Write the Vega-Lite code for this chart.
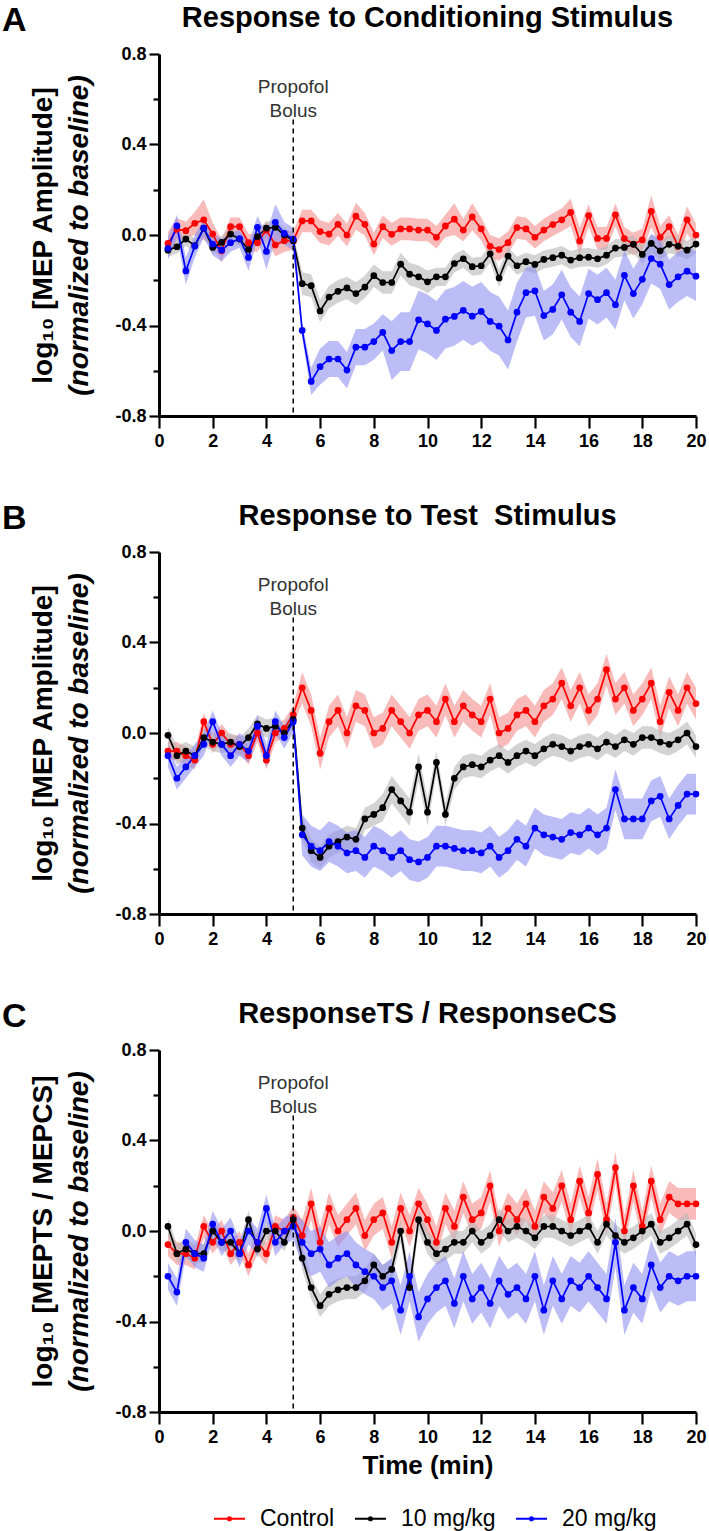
{
"$schema": "https://vega.github.io/schema/vega-lite/v6.json",
"padding": {"left": 2, "top": 4, "right": 2, "bottom": 4},
"config": {"font": "Liberation Sans", "view": {"stroke": null}, "axis": {"domainColor": "black", "tickColor": "black", "labelColor": "black", "titleColor": "black", "grid": false}, "title": {"color": "black"}},
"spacing": 52,
"datasets": {
"A": [
{"g":"Control","t":0.333,"m":-0.037,"e":0.05},{"g":"Control","t":0.667,"m":0.025,"e":0.05},{"g":"Control","t":1,"m":0.019,"e":0.04},{"g":"Control","t":1.333,"m":0.052,"e":0.05},{"g":"Control","t":1.667,"m":0.067,"e":0.09},{"g":"Control","t":2,"m":0.004,"e":0.05},{"g":"Control","t":2.333,"m":-0.07,"e":0.05},{"g":"Control","t":2.667,"m":0.037,"e":0.04},{"g":"Control","t":3,"m":0.037,"e":0.04},{"g":"Control","t":3.333,"m":-0.034,"e":0.04},{"g":"Control","t":3.667,"m":-0.034,"e":0.04},{"g":"Control","t":4,"m":0.022,"e":0.04},{"g":"Control","t":4.333,"m":-0.044,"e":0.05},{"g":"Control","t":4.667,"m":-0.025,"e":0.05},{"g":"Control","t":5,"m":-0.025,"e":0.04},
{"g":"Control","t":5.333,"m":0.062,"e":0.05},{"g":"Control","t":5.667,"m":0.062,"e":0.05},{"g":"Control","t":6,"m":0.015,"e":0.05},{"g":"Control","t":6.333,"m":0.004,"e":0.05},{"g":"Control","t":6.667,"m":0.047,"e":0.05},{"g":"Control","t":7,"m":0.0,"e":0.05},{"g":"Control","t":7.333,"m":0.083,"e":0.06},{"g":"Control","t":7.667,"m":0.047,"e":0.05},{"g":"Control","t":8,"m":-0.04,"e":0.05},{"g":"Control","t":8.333,"m":0.037,"e":0.05},{"g":"Control","t":8.667,"m":0.003,"e":0.05},{"g":"Control","t":9,"m":0.027,"e":0.05},{"g":"Control","t":9.333,"m":0.027,"e":0.05},{"g":"Control","t":9.667,"m":0.022,"e":0.05},{"g":"Control","t":10,"m":0.022,"e":0.05},
{"g":"Control","t":10.333,"m":-0.01,"e":0.05},{"g":"Control","t":10.667,"m":0.04,"e":0.05},{"g":"Control","t":11,"m":0.07,"e":0.07},{"g":"Control","t":11.333,"m":0.022,"e":0.05},{"g":"Control","t":11.667,"m":0.08,"e":0.06},{"g":"Control","t":12,"m":0.027,"e":0.05},{"g":"Control","t":12.333,"m":-0.05,"e":0.05},{"g":"Control","t":12.667,"m":-0.064,"e":0.05},{"g":"Control","t":13,"m":-0.034,"e":0.05},{"g":"Control","t":13.333,"m":0.033,"e":0.05},{"g":"Control","t":13.667,"m":0.027,"e":0.05},{"g":"Control","t":14,"m":-0.01,"e":0.05},{"g":"Control","t":14.333,"m":0.022,"e":0.05},{"g":"Control","t":14.667,"m":0.046,"e":0.05},{"g":"Control","t":15,"m":0.067,"e":0.05},
{"g":"Control","t":15.333,"m":0.1,"e":0.06},{"g":"Control","t":15.667,"m":-0.027,"e":0.06},{"g":"Control","t":16,"m":0.086,"e":0.05},{"g":"Control","t":16.333,"m":-0.015,"e":0.05},{"g":"Control","t":16.667,"m":-0.015,"e":0.05},{"g":"Control","t":17,"m":0.089,"e":0.05},{"g":"Control","t":17.333,"m":-0.016,"e":0.05},{"g":"Control","t":17.667,"m":-0.04,"e":0.05},{"g":"Control","t":18,"m":-0.022,"e":0.05},{"g":"Control","t":18.333,"m":0.105,"e":0.07},{"g":"Control","t":18.667,"m":-0.01,"e":0.05},{"g":"Control","t":19,"m":0.037,"e":0.05},{"g":"Control","t":19.333,"m":-0.05,"e":0.05},{"g":"Control","t":19.667,"m":0.067,"e":0.06},{"g":"Control","t":20,"m":0.0,"e":0.05},
{"g":"10 mg/kg","t":0.333,"m":-0.067,"e":0.03},{"g":"10 mg/kg","t":0.667,"m":-0.052,"e":0.03},{"g":"10 mg/kg","t":1,"m":-0.018,"e":0.03},{"g":"10 mg/kg","t":1.333,"m":-0.047,"e":0.03},{"g":"10 mg/kg","t":1.667,"m":0.03,"e":0.03},{"g":"10 mg/kg","t":2,"m":-0.055,"e":0.03},{"g":"10 mg/kg","t":2.333,"m":-0.033,"e":0.03},{"g":"10 mg/kg","t":2.667,"m":0.004,"e":0.03},{"g":"10 mg/kg","t":3,"m":-0.018,"e":0.03},{"g":"10 mg/kg","t":3.333,"m":-0.064,"e":0.03},{"g":"10 mg/kg","t":3.667,"m":-0.007,"e":0.03},{"g":"10 mg/kg","t":4,"m":0.03,"e":0.03},{"g":"10 mg/kg","t":4.333,"m":0.034,"e":0.03},{"g":"10 mg/kg","t":4.667,"m":0.0,"e":0.03},{"g":"10 mg/kg","t":5,"m":-0.025,"e":0.03},
{"g":"10 mg/kg","t":5.333,"m":-0.215,"e":0.05},{"g":"10 mg/kg","t":5.667,"m":-0.224,"e":0.05},{"g":"10 mg/kg","t":6,"m":-0.336,"e":0.05},{"g":"10 mg/kg","t":6.333,"m":-0.274,"e":0.05},{"g":"10 mg/kg","t":6.667,"m":-0.249,"e":0.05},{"g":"10 mg/kg","t":7,"m":-0.234,"e":0.05},{"g":"10 mg/kg","t":7.333,"m":-0.259,"e":0.05},{"g":"10 mg/kg","t":7.667,"m":-0.23,"e":0.05},{"g":"10 mg/kg","t":8,"m":-0.18,"e":0.05},{"g":"10 mg/kg","t":8.333,"m":-0.21,"e":0.05},{"g":"10 mg/kg","t":8.667,"m":-0.21,"e":0.05},{"g":"10 mg/kg","t":9,"m":-0.129,"e":0.05},{"g":"10 mg/kg","t":9.333,"m":-0.173,"e":0.05},{"g":"10 mg/kg","t":9.667,"m":-0.185,"e":0.05},{"g":"10 mg/kg","t":10,"m":-0.207,"e":0.05},
{"g":"10 mg/kg","t":10.333,"m":-0.185,"e":0.04},{"g":"10 mg/kg","t":10.667,"m":-0.185,"e":0.04},{"g":"10 mg/kg","t":11,"m":-0.126,"e":0.04},{"g":"10 mg/kg","t":11.333,"m":-0.105,"e":0.04},{"g":"10 mg/kg","t":11.667,"m":-0.14,"e":0.04},{"g":"10 mg/kg","t":12,"m":-0.136,"e":0.04},{"g":"10 mg/kg","t":12.333,"m":-0.083,"e":0.04},{"g":"10 mg/kg","t":12.667,"m":-0.19,"e":0.04},{"g":"10 mg/kg","t":13,"m":-0.093,"e":0.04},{"g":"10 mg/kg","t":13.333,"m":-0.136,"e":0.04},{"g":"10 mg/kg","t":13.667,"m":-0.118,"e":0.04},{"g":"10 mg/kg","t":14,"m":-0.13,"e":0.04},{"g":"10 mg/kg","t":14.333,"m":-0.108,"e":0.04},{"g":"10 mg/kg","t":14.667,"m":-0.1,"e":0.04},{"g":"10 mg/kg","t":15,"m":-0.089,"e":0.04},
{"g":"10 mg/kg","t":15.333,"m":-0.111,"e":0.04},{"g":"10 mg/kg","t":15.667,"m":-0.1,"e":0.04},{"g":"10 mg/kg","t":16,"m":-0.098,"e":0.04},{"g":"10 mg/kg","t":16.333,"m":-0.105,"e":0.04},{"g":"10 mg/kg","t":16.667,"m":-0.089,"e":0.04},{"g":"10 mg/kg","t":17,"m":-0.058,"e":0.04},{"g":"10 mg/kg","t":17.333,"m":-0.055,"e":0.04},{"g":"10 mg/kg","t":17.667,"m":-0.041,"e":0.04},{"g":"10 mg/kg","t":18,"m":-0.086,"e":0.04},{"g":"10 mg/kg","t":18.333,"m":-0.037,"e":0.04},{"g":"10 mg/kg","t":18.667,"m":-0.07,"e":0.04},{"g":"10 mg/kg","t":19,"m":-0.041,"e":0.04},{"g":"10 mg/kg","t":19.333,"m":-0.049,"e":0.04},{"g":"10 mg/kg","t":19.667,"m":-0.067,"e":0.04},{"g":"10 mg/kg","t":20,"m":-0.04,"e":0.04},
{"g":"20 mg/kg","t":0.333,"m":-0.059,"e":0.05},{"g":"20 mg/kg","t":0.667,"m":0.04,"e":0.05},{"g":"20 mg/kg","t":1,"m":-0.159,"e":0.06},{"g":"20 mg/kg","t":1.333,"m":-0.049,"e":0.05},{"g":"20 mg/kg","t":1.667,"m":0.03,"e":0.04},{"g":"20 mg/kg","t":2,"m":-0.04,"e":0.05},{"g":"20 mg/kg","t":2.333,"m":-0.067,"e":0.05},{"g":"20 mg/kg","t":2.667,"m":-0.034,"e":0.04},{"g":"20 mg/kg","t":3,"m":-0.016,"e":0.04},{"g":"20 mg/kg","t":3.333,"m":-0.099,"e":0.06},{"g":"20 mg/kg","t":3.667,"m":0.034,"e":0.05},{"g":"20 mg/kg","t":4,"m":-0.073,"e":0.08},{"g":"20 mg/kg","t":4.333,"m":0.056,"e":0.08},{"g":"20 mg/kg","t":4.667,"m":0.007,"e":0.05},{"g":"20 mg/kg","t":5,"m":-0.018,"e":0.05},
{"g":"20 mg/kg","t":5.333,"m":-0.422,"e":0.03},{"g":"20 mg/kg","t":5.667,"m":-0.647,"e":0.06},{"g":"20 mg/kg","t":6,"m":-0.582,"e":0.08},{"g":"20 mg/kg","t":6.333,"m":-0.548,"e":0.08},{"g":"20 mg/kg","t":6.667,"m":-0.548,"e":0.08},{"g":"20 mg/kg","t":7,"m":-0.597,"e":0.08},{"g":"20 mg/kg","t":7.333,"m":-0.496,"e":0.08},{"g":"20 mg/kg","t":7.667,"m":-0.496,"e":0.08},{"g":"20 mg/kg","t":8,"m":-0.471,"e":0.08},{"g":"20 mg/kg","t":8.333,"m":-0.43,"e":0.08},{"g":"20 mg/kg","t":8.667,"m":-0.511,"e":0.13},{"g":"20 mg/kg","t":9,"m":-0.471,"e":0.13},{"g":"20 mg/kg","t":9.333,"m":-0.471,"e":0.13},{"g":"20 mg/kg","t":9.667,"m":-0.375,"e":0.13},{"g":"20 mg/kg","t":10,"m":-0.393,"e":0.13},
{"g":"20 mg/kg","t":10.333,"m":-0.422,"e":0.13},{"g":"20 mg/kg","t":10.667,"m":-0.372,"e":0.13},{"g":"20 mg/kg","t":11,"m":-0.36,"e":0.13},{"g":"20 mg/kg","t":11.333,"m":-0.333,"e":0.13},{"g":"20 mg/kg","t":11.667,"m":-0.359,"e":0.13},{"g":"20 mg/kg","t":12,"m":-0.338,"e":0.13},{"g":"20 mg/kg","t":12.333,"m":-0.382,"e":0.13},{"g":"20 mg/kg","t":12.667,"m":-0.403,"e":0.13},{"g":"20 mg/kg","t":13,"m":-0.464,"e":0.13},{"g":"20 mg/kg","t":13.333,"m":-0.341,"e":0.13},{"g":"20 mg/kg","t":13.667,"m":-0.255,"e":0.11},{"g":"20 mg/kg","t":14,"m":-0.247,"e":0.11},{"g":"20 mg/kg","t":14.333,"m":-0.356,"e":0.11},{"g":"20 mg/kg","t":14.667,"m":-0.329,"e":0.11},{"g":"20 mg/kg","t":15,"m":-0.264,"e":0.11},
{"g":"20 mg/kg","t":15.333,"m":-0.341,"e":0.11},{"g":"20 mg/kg","t":15.667,"m":-0.382,"e":0.11},{"g":"20 mg/kg","t":16,"m":-0.259,"e":0.11},{"g":"20 mg/kg","t":16.333,"m":-0.286,"e":0.11},{"g":"20 mg/kg","t":16.667,"m":-0.255,"e":0.11},{"g":"20 mg/kg","t":17,"m":-0.308,"e":0.11},{"g":"20 mg/kg","t":17.333,"m":-0.178,"e":0.11},{"g":"20 mg/kg","t":17.667,"m":-0.259,"e":0.11},{"g":"20 mg/kg","t":18,"m":-0.196,"e":0.11},{"g":"20 mg/kg","t":18.333,"m":-0.104,"e":0.11},{"g":"20 mg/kg","t":18.667,"m":-0.129,"e":0.11},{"g":"20 mg/kg","t":19,"m":-0.219,"e":0.11},{"g":"20 mg/kg","t":19.333,"m":-0.185,"e":0.11},{"g":"20 mg/kg","t":19.667,"m":-0.16,"e":0.11},{"g":"20 mg/kg","t":20,"m":-0.182,"e":0.11}
],
"B": [
{"g":"Control","t":0.333,"m":-0.08,"e":0.04},{"g":"Control","t":0.667,"m":-0.08,"e":0.04},{"g":"Control","t":1,"m":-0.1,"e":0.04},{"g":"Control","t":1.333,"m":-0.12,"e":0.04},{"g":"Control","t":1.667,"m":0.05,"e":0.04},{"g":"Control","t":2,"m":-0.05,"e":0.04},{"g":"Control","t":2.333,"m":0.0,"e":0.04},{"g":"Control","t":2.667,"m":-0.05,"e":0.04},{"g":"Control","t":3,"m":-0.05,"e":0.04},{"g":"Control","t":3.333,"m":-0.1,"e":0.04},{"g":"Control","t":3.667,"m":0.0,"e":0.04},{"g":"Control","t":4,"m":-0.12,"e":0.04},{"g":"Control","t":4.333,"m":0.0,"e":0.04},{"g":"Control","t":4.667,"m":0.02,"e":0.04},{"g":"Control","t":5,"m":0.08,"e":0.04},
{"g":"Control","t":5.333,"m":0.2,"e":0.07},{"g":"Control","t":5.667,"m":0.1,"e":0.07},{"g":"Control","t":6,"m":-0.09,"e":0.07},{"g":"Control","t":6.333,"m":0.05,"e":0.07},{"g":"Control","t":6.667,"m":0.1,"e":0.07},{"g":"Control","t":7,"m":0.0,"e":0.07},{"g":"Control","t":7.333,"m":0.12,"e":0.07},{"g":"Control","t":7.667,"m":0.1,"e":0.07},{"g":"Control","t":8,"m":0.0,"e":0.07},{"g":"Control","t":8.333,"m":0.02,"e":0.07},{"g":"Control","t":8.667,"m":0.1,"e":0.07},{"g":"Control","t":9,"m":0.05,"e":0.07},{"g":"Control","t":9.333,"m":0.0,"e":0.07},{"g":"Control","t":9.667,"m":0.08,"e":0.07},{"g":"Control","t":10,"m":0.1,"e":0.07},
{"g":"Control","t":10.333,"m":0.05,"e":0.07},{"g":"Control","t":10.667,"m":0.15,"e":0.07},{"g":"Control","t":11,"m":0.05,"e":0.07},{"g":"Control","t":11.333,"m":0.12,"e":0.07},{"g":"Control","t":11.667,"m":0.08,"e":0.07},{"g":"Control","t":12,"m":0.05,"e":0.07},{"g":"Control","t":12.333,"m":0.15,"e":0.07},{"g":"Control","t":12.667,"m":0.0,"e":0.07},{"g":"Control","t":13,"m":0.02,"e":0.07},{"g":"Control","t":13.333,"m":0.08,"e":0.07},{"g":"Control","t":13.667,"m":0.1,"e":0.07},{"g":"Control","t":14,"m":0.05,"e":0.07},{"g":"Control","t":14.333,"m":0.12,"e":0.07},{"g":"Control","t":14.667,"m":0.15,"e":0.07},{"g":"Control","t":15,"m":0.22,"e":0.07},
{"g":"Control","t":15.333,"m":0.12,"e":0.07},{"g":"Control","t":15.667,"m":0.2,"e":0.07},{"g":"Control","t":16,"m":0.1,"e":0.07},{"g":"Control","t":16.333,"m":0.15,"e":0.07},{"g":"Control","t":16.667,"m":0.28,"e":0.07},{"g":"Control","t":17,"m":0.15,"e":0.07},{"g":"Control","t":17.333,"m":0.2,"e":0.07},{"g":"Control","t":17.667,"m":0.1,"e":0.07},{"g":"Control","t":18,"m":0.15,"e":0.07},{"g":"Control","t":18.333,"m":0.22,"e":0.07},{"g":"Control","t":18.667,"m":0.05,"e":0.07},{"g":"Control","t":19,"m":0.18,"e":0.07},{"g":"Control","t":19.333,"m":0.1,"e":0.07},{"g":"Control","t":19.667,"m":0.2,"e":0.07},{"g":"Control","t":20,"m":0.13,"e":0.07},
{"g":"10 mg/kg","t":0.333,"m":-0.01,"e":0.04},{"g":"10 mg/kg","t":0.667,"m":-0.1,"e":0.04},{"g":"10 mg/kg","t":1,"m":-0.08,"e":0.04},{"g":"10 mg/kg","t":1.333,"m":-0.1,"e":0.04},{"g":"10 mg/kg","t":1.667,"m":-0.02,"e":0.04},{"g":"10 mg/kg","t":2,"m":-0.04,"e":0.04},{"g":"10 mg/kg","t":2.333,"m":-0.05,"e":0.04},{"g":"10 mg/kg","t":2.667,"m":-0.04,"e":0.04},{"g":"10 mg/kg","t":3,"m":-0.06,"e":0.04},{"g":"10 mg/kg","t":3.333,"m":-0.02,"e":0.04},{"g":"10 mg/kg","t":3.667,"m":0.04,"e":0.04},{"g":"10 mg/kg","t":4,"m":0.02,"e":0.04},{"g":"10 mg/kg","t":4.333,"m":0.03,"e":0.04},{"g":"10 mg/kg","t":4.667,"m":0.0,"e":0.04},{"g":"10 mg/kg","t":5,"m":0.06,"e":0.04},
{"g":"10 mg/kg","t":5.333,"m":-0.42,"e":0.05},{"g":"10 mg/kg","t":5.667,"m":-0.52,"e":0.05},{"g":"10 mg/kg","t":6,"m":-0.55,"e":0.05},{"g":"10 mg/kg","t":6.333,"m":-0.5,"e":0.05},{"g":"10 mg/kg","t":6.667,"m":-0.48,"e":0.05},{"g":"10 mg/kg","t":7,"m":-0.46,"e":0.05},{"g":"10 mg/kg","t":7.333,"m":-0.47,"e":0.05},{"g":"10 mg/kg","t":7.667,"m":-0.38,"e":0.05},{"g":"10 mg/kg","t":8,"m":-0.36,"e":0.05},{"g":"10 mg/kg","t":8.333,"m":-0.33,"e":0.06},{"g":"10 mg/kg","t":8.667,"m":-0.25,"e":0.06},{"g":"10 mg/kg","t":9,"m":-0.3,"e":0.06},{"g":"10 mg/kg","t":9.333,"m":-0.35,"e":0.06},{"g":"10 mg/kg","t":9.667,"m":-0.15,"e":0.06},{"g":"10 mg/kg","t":10,"m":-0.35,"e":0.06},
{"g":"10 mg/kg","t":10.333,"m":-0.13,"e":0.05},{"g":"10 mg/kg","t":10.667,"m":-0.36,"e":0.05},{"g":"10 mg/kg","t":11,"m":-0.2,"e":0.05},{"g":"10 mg/kg","t":11.333,"m":-0.15,"e":0.05},{"g":"10 mg/kg","t":11.667,"m":-0.14,"e":0.05},{"g":"10 mg/kg","t":12,"m":-0.15,"e":0.05},{"g":"10 mg/kg","t":12.333,"m":-0.12,"e":0.05},{"g":"10 mg/kg","t":12.667,"m":-0.1,"e":0.05},{"g":"10 mg/kg","t":13,"m":-0.13,"e":0.05},{"g":"10 mg/kg","t":13.333,"m":-0.1,"e":0.05},{"g":"10 mg/kg","t":13.667,"m":-0.08,"e":0.05},{"g":"10 mg/kg","t":14,"m":-0.1,"e":0.05},{"g":"10 mg/kg","t":14.333,"m":-0.07,"e":0.05},{"g":"10 mg/kg","t":14.667,"m":-0.05,"e":0.05},{"g":"10 mg/kg","t":15,"m":-0.06,"e":0.05},
{"g":"10 mg/kg","t":15.333,"m":-0.08,"e":0.05},{"g":"10 mg/kg","t":15.667,"m":-0.06,"e":0.05},{"g":"10 mg/kg","t":16,"m":-0.05,"e":0.05},{"g":"10 mg/kg","t":16.333,"m":-0.07,"e":0.05},{"g":"10 mg/kg","t":16.667,"m":-0.04,"e":0.05},{"g":"10 mg/kg","t":17,"m":-0.06,"e":0.05},{"g":"10 mg/kg","t":17.333,"m":-0.03,"e":0.05},{"g":"10 mg/kg","t":17.667,"m":-0.05,"e":0.05},{"g":"10 mg/kg","t":18,"m":-0.02,"e":0.05},{"g":"10 mg/kg","t":18.333,"m":-0.02,"e":0.05},{"g":"10 mg/kg","t":18.667,"m":-0.04,"e":0.05},{"g":"10 mg/kg","t":19,"m":-0.05,"e":0.05},{"g":"10 mg/kg","t":19.333,"m":-0.03,"e":0.05},{"g":"10 mg/kg","t":19.667,"m":0.0,"e":0.05},{"g":"10 mg/kg","t":20,"m":-0.06,"e":0.05},
{"g":"20 mg/kg","t":0.333,"m":-0.1,"e":0.05},{"g":"20 mg/kg","t":0.667,"m":-0.2,"e":0.05},{"g":"20 mg/kg","t":1,"m":-0.15,"e":0.05},{"g":"20 mg/kg","t":1.333,"m":-0.1,"e":0.05},{"g":"20 mg/kg","t":1.667,"m":-0.05,"e":0.05},{"g":"20 mg/kg","t":2,"m":0.05,"e":0.05},{"g":"20 mg/kg","t":2.333,"m":-0.05,"e":0.05},{"g":"20 mg/kg","t":2.667,"m":-0.1,"e":0.05},{"g":"20 mg/kg","t":3,"m":-0.05,"e":0.05},{"g":"20 mg/kg","t":3.333,"m":-0.08,"e":0.05},{"g":"20 mg/kg","t":3.667,"m":0.03,"e":0.05},{"g":"20 mg/kg","t":4,"m":-0.1,"e":0.05},{"g":"20 mg/kg","t":4.333,"m":0.05,"e":0.05},{"g":"20 mg/kg","t":4.667,"m":-0.02,"e":0.05},{"g":"20 mg/kg","t":5,"m":0.05,"e":0.05},
{"g":"20 mg/kg","t":5.333,"m":-0.45,"e":0.09},{"g":"20 mg/kg","t":5.667,"m":-0.5,"e":0.09},{"g":"20 mg/kg","t":6,"m":-0.52,"e":0.09},{"g":"20 mg/kg","t":6.333,"m":-0.48,"e":0.09},{"g":"20 mg/kg","t":6.667,"m":-0.5,"e":0.09},{"g":"20 mg/kg","t":7,"m":-0.53,"e":0.09},{"g":"20 mg/kg","t":7.333,"m":-0.52,"e":0.09},{"g":"20 mg/kg","t":7.667,"m":-0.55,"e":0.09},{"g":"20 mg/kg","t":8,"m":-0.5,"e":0.09},{"g":"20 mg/kg","t":8.333,"m":-0.52,"e":0.09},{"g":"20 mg/kg","t":8.667,"m":-0.55,"e":0.09},{"g":"20 mg/kg","t":9,"m":-0.52,"e":0.09},{"g":"20 mg/kg","t":9.333,"m":-0.56,"e":0.09},{"g":"20 mg/kg","t":9.667,"m":-0.57,"e":0.09},{"g":"20 mg/kg","t":10,"m":-0.55,"e":0.09},
{"g":"20 mg/kg","t":10.333,"m":-0.5,"e":0.09},{"g":"20 mg/kg","t":10.667,"m":-0.5,"e":0.09},{"g":"20 mg/kg","t":11,"m":-0.51,"e":0.09},{"g":"20 mg/kg","t":11.333,"m":-0.52,"e":0.09},{"g":"20 mg/kg","t":11.667,"m":-0.52,"e":0.09},{"g":"20 mg/kg","t":12,"m":-0.53,"e":0.09},{"g":"20 mg/kg","t":12.333,"m":-0.5,"e":0.09},{"g":"20 mg/kg","t":12.667,"m":-0.55,"e":0.09},{"g":"20 mg/kg","t":13,"m":-0.52,"e":0.09},{"g":"20 mg/kg","t":13.333,"m":-0.47,"e":0.09},{"g":"20 mg/kg","t":13.667,"m":-0.5,"e":0.09},{"g":"20 mg/kg","t":14,"m":-0.42,"e":0.09},{"g":"20 mg/kg","t":14.333,"m":-0.45,"e":0.09},{"g":"20 mg/kg","t":14.667,"m":-0.46,"e":0.09},{"g":"20 mg/kg","t":15,"m":-0.47,"e":0.09},
{"g":"20 mg/kg","t":15.333,"m":-0.44,"e":0.09},{"g":"20 mg/kg","t":15.667,"m":-0.45,"e":0.09},{"g":"20 mg/kg","t":16,"m":-0.42,"e":0.09},{"g":"20 mg/kg","t":16.333,"m":-0.45,"e":0.09},{"g":"20 mg/kg","t":16.667,"m":-0.42,"e":0.09},{"g":"20 mg/kg","t":17,"m":-0.25,"e":0.09},{"g":"20 mg/kg","t":17.333,"m":-0.38,"e":0.09},{"g":"20 mg/kg","t":17.667,"m":-0.38,"e":0.09},{"g":"20 mg/kg","t":18,"m":-0.38,"e":0.09},{"g":"20 mg/kg","t":18.333,"m":-0.3,"e":0.09},{"g":"20 mg/kg","t":18.667,"m":-0.28,"e":0.09},{"g":"20 mg/kg","t":19,"m":-0.38,"e":0.09},{"g":"20 mg/kg","t":19.333,"m":-0.32,"e":0.09},{"g":"20 mg/kg","t":19.667,"m":-0.27,"e":0.09},{"g":"20 mg/kg","t":20,"m":-0.27,"e":0.09}
],
"C": [
{"g":"Control","t":0.333,"m":-0.06,"e":0.05},{"g":"Control","t":0.667,"m":-0.1,"e":0.05},{"g":"Control","t":1,"m":-0.1,"e":0.05},{"g":"Control","t":1.333,"m":-0.12,"e":0.05},{"g":"Control","t":1.667,"m":0.02,"e":0.05},{"g":"Control","t":2,"m":-0.05,"e":0.05},{"g":"Control","t":2.333,"m":0.0,"e":0.05},{"g":"Control","t":2.667,"m":-0.1,"e":0.05},{"g":"Control","t":3,"m":-0.05,"e":0.05},{"g":"Control","t":3.333,"m":-0.15,"e":0.05},{"g":"Control","t":3.667,"m":-0.05,"e":0.05},{"g":"Control","t":4,"m":-0.1,"e":0.05},{"g":"Control","t":4.333,"m":0.02,"e":0.05},{"g":"Control","t":4.667,"m":0.0,"e":0.05},{"g":"Control","t":5,"m":0.06,"e":0.05},
{"g":"Control","t":5.333,"m":-0.02,"e":0.07},{"g":"Control","t":5.667,"m":0.12,"e":0.07},{"g":"Control","t":6,"m":-0.05,"e":0.07},{"g":"Control","t":6.333,"m":0.1,"e":0.07},{"g":"Control","t":6.667,"m":0.0,"e":0.07},{"g":"Control","t":7,"m":0.05,"e":0.07},{"g":"Control","t":7.333,"m":0.1,"e":0.07},{"g":"Control","t":7.667,"m":-0.02,"e":0.07},{"g":"Control","t":8,"m":0.05,"e":0.07},{"g":"Control","t":8.333,"m":0.08,"e":0.07},{"g":"Control","t":8.667,"m":-0.05,"e":0.07},{"g":"Control","t":9,"m":0.1,"e":0.07},{"g":"Control","t":9.333,"m":0.0,"e":0.07},{"g":"Control","t":9.667,"m":0.12,"e":0.07},{"g":"Control","t":10,"m":0.05,"e":0.07},
{"g":"Control","t":10.333,"m":-0.05,"e":0.07},{"g":"Control","t":10.667,"m":0.1,"e":0.07},{"g":"Control","t":11,"m":0.02,"e":0.07},{"g":"Control","t":11.333,"m":0.15,"e":0.07},{"g":"Control","t":11.667,"m":0.05,"e":0.07},{"g":"Control","t":12,"m":0.08,"e":0.07},{"g":"Control","t":12.333,"m":0.2,"e":0.07},{"g":"Control","t":12.667,"m":0.0,"e":0.07},{"g":"Control","t":13,"m":0.1,"e":0.07},{"g":"Control","t":13.333,"m":0.05,"e":0.07},{"g":"Control","t":13.667,"m":0.12,"e":0.07},{"g":"Control","t":14,"m":0.02,"e":0.07},{"g":"Control","t":14.333,"m":0.15,"e":0.07},{"g":"Control","t":14.667,"m":0.1,"e":0.07},{"g":"Control","t":15,"m":0.2,"e":0.07},
{"g":"Control","t":15.333,"m":0.05,"e":0.07},{"g":"Control","t":15.667,"m":0.22,"e":0.07},{"g":"Control","t":16,"m":0.08,"e":0.07},{"g":"Control","t":16.333,"m":0.25,"e":0.07},{"g":"Control","t":16.667,"m":0.05,"e":0.07},{"g":"Control","t":17,"m":0.28,"e":0.07},{"g":"Control","t":17.333,"m":0.0,"e":0.07},{"g":"Control","t":17.667,"m":0.2,"e":0.07},{"g":"Control","t":18,"m":0.02,"e":0.07},{"g":"Control","t":18.333,"m":0.22,"e":0.07},{"g":"Control","t":18.667,"m":0.05,"e":0.07},{"g":"Control","t":19,"m":0.15,"e":0.07},{"g":"Control","t":19.333,"m":0.12,"e":0.07},{"g":"Control","t":19.667,"m":0.12,"e":0.07},{"g":"Control","t":20,"m":0.12,"e":0.07},
{"g":"10 mg/kg","t":0.333,"m":0.02,"e":0.04},{"g":"10 mg/kg","t":0.667,"m":-0.1,"e":0.04},{"g":"10 mg/kg","t":1,"m":-0.08,"e":0.04},{"g":"10 mg/kg","t":1.333,"m":-0.1,"e":0.04},{"g":"10 mg/kg","t":1.667,"m":-0.1,"e":0.04},{"g":"10 mg/kg","t":2,"m":0.0,"e":0.04},{"g":"10 mg/kg","t":2.333,"m":-0.05,"e":0.04},{"g":"10 mg/kg","t":2.667,"m":-0.05,"e":0.04},{"g":"10 mg/kg","t":3,"m":-0.1,"e":0.04},{"g":"10 mg/kg","t":3.333,"m":0.05,"e":0.04},{"g":"10 mg/kg","t":3.667,"m":-0.08,"e":0.04},{"g":"10 mg/kg","t":4,"m":0.0,"e":0.04},{"g":"10 mg/kg","t":4.333,"m":0.0,"e":0.04},{"g":"10 mg/kg","t":4.667,"m":-0.05,"e":0.04},{"g":"10 mg/kg","t":5,"m":0.05,"e":0.04},
{"g":"10 mg/kg","t":5.333,"m":-0.12,"e":0.05},{"g":"10 mg/kg","t":5.667,"m":-0.25,"e":0.05},{"g":"10 mg/kg","t":6,"m":-0.33,"e":0.05},{"g":"10 mg/kg","t":6.333,"m":-0.28,"e":0.05},{"g":"10 mg/kg","t":6.667,"m":-0.26,"e":0.05},{"g":"10 mg/kg","t":7,"m":-0.25,"e":0.05},{"g":"10 mg/kg","t":7.333,"m":-0.25,"e":0.05},{"g":"10 mg/kg","t":7.667,"m":-0.22,"e":0.05},{"g":"10 mg/kg","t":8,"m":-0.15,"e":0.05},{"g":"10 mg/kg","t":8.333,"m":-0.2,"e":0.05},{"g":"10 mg/kg","t":8.667,"m":-0.17,"e":0.05},{"g":"10 mg/kg","t":9,"m":0.0,"e":0.05},{"g":"10 mg/kg","t":9.333,"m":-0.25,"e":0.05},{"g":"10 mg/kg","t":9.667,"m":0.05,"e":0.05},{"g":"10 mg/kg","t":10,"m":-0.05,"e":0.05},
{"g":"10 mg/kg","t":10.333,"m":-0.1,"e":0.05},{"g":"10 mg/kg","t":10.667,"m":-0.08,"e":0.05},{"g":"10 mg/kg","t":11,"m":-0.05,"e":0.05},{"g":"10 mg/kg","t":11.333,"m":-0.05,"e":0.05},{"g":"10 mg/kg","t":11.667,"m":0.0,"e":0.05},{"g":"10 mg/kg","t":12,"m":-0.05,"e":0.05},{"g":"10 mg/kg","t":12.333,"m":-0.02,"e":0.05},{"g":"10 mg/kg","t":12.667,"m":0.05,"e":0.05},{"g":"10 mg/kg","t":13,"m":0.0,"e":0.05},{"g":"10 mg/kg","t":13.333,"m":0.02,"e":0.05},{"g":"10 mg/kg","t":13.667,"m":0.0,"e":0.05},{"g":"10 mg/kg","t":14,"m":-0.03,"e":0.05},{"g":"10 mg/kg","t":14.333,"m":0.02,"e":0.05},{"g":"10 mg/kg","t":14.667,"m":0.02,"e":0.05},{"g":"10 mg/kg","t":15,"m":0.0,"e":0.05},
{"g":"10 mg/kg","t":15.333,"m":-0.02,"e":0.05},{"g":"10 mg/kg","t":15.667,"m":0.0,"e":0.05},{"g":"10 mg/kg","t":16,"m":0.02,"e":0.05},{"g":"10 mg/kg","t":16.333,"m":-0.05,"e":0.05},{"g":"10 mg/kg","t":16.667,"m":0.03,"e":0.05},{"g":"10 mg/kg","t":17,"m":-0.02,"e":0.05},{"g":"10 mg/kg","t":17.333,"m":-0.05,"e":0.05},{"g":"10 mg/kg","t":17.667,"m":-0.03,"e":0.05},{"g":"10 mg/kg","t":18,"m":0.0,"e":0.05},{"g":"10 mg/kg","t":18.333,"m":0.03,"e":0.05},{"g":"10 mg/kg","t":18.667,"m":-0.05,"e":0.05},{"g":"10 mg/kg","t":19,"m":-0.03,"e":0.05},{"g":"10 mg/kg","t":19.333,"m":0.0,"e":0.05},{"g":"10 mg/kg","t":19.667,"m":0.03,"e":0.05},{"g":"10 mg/kg","t":20,"m":-0.06,"e":0.05},
{"g":"20 mg/kg","t":0.333,"m":-0.2,"e":0.06},{"g":"20 mg/kg","t":0.667,"m":-0.27,"e":0.06},{"g":"20 mg/kg","t":1,"m":-0.05,"e":0.06},{"g":"20 mg/kg","t":1.333,"m":-0.1,"e":0.06},{"g":"20 mg/kg","t":1.667,"m":-0.12,"e":0.06},{"g":"20 mg/kg","t":2,"m":0.03,"e":0.06},{"g":"20 mg/kg","t":2.333,"m":-0.05,"e":0.06},{"g":"20 mg/kg","t":2.667,"m":0.0,"e":0.06},{"g":"20 mg/kg","t":3,"m":-0.1,"e":0.06},{"g":"20 mg/kg","t":3.333,"m":0.0,"e":0.06},{"g":"20 mg/kg","t":3.667,"m":-0.05,"e":0.06},{"g":"20 mg/kg","t":4,"m":0.1,"e":0.06},{"g":"20 mg/kg","t":4.333,"m":-0.05,"e":0.06},{"g":"20 mg/kg","t":4.667,"m":0.0,"e":0.06},{"g":"20 mg/kg","t":5,"m":0.02,"e":0.06},
{"g":"20 mg/kg","t":5.333,"m":-0.05,"e":0.1},{"g":"20 mg/kg","t":5.667,"m":-0.1,"e":0.1},{"g":"20 mg/kg","t":6,"m":-0.08,"e":0.1},{"g":"20 mg/kg","t":6.333,"m":-0.15,"e":0.1},{"g":"20 mg/kg","t":6.667,"m":-0.12,"e":0.1},{"g":"20 mg/kg","t":7,"m":-0.1,"e":0.1},{"g":"20 mg/kg","t":7.333,"m":-0.15,"e":0.1},{"g":"20 mg/kg","t":7.667,"m":-0.18,"e":0.1},{"g":"20 mg/kg","t":8,"m":-0.2,"e":0.1},{"g":"20 mg/kg","t":8.333,"m":-0.25,"e":0.1},{"g":"20 mg/kg","t":8.667,"m":-0.22,"e":0.1},{"g":"20 mg/kg","t":9,"m":-0.35,"e":0.11},{"g":"20 mg/kg","t":9.333,"m":-0.2,"e":0.11},{"g":"20 mg/kg","t":9.667,"m":-0.38,"e":0.11},{"g":"20 mg/kg","t":10,"m":-0.3,"e":0.11},
{"g":"20 mg/kg","t":10.333,"m":-0.25,"e":0.11},{"g":"20 mg/kg","t":10.667,"m":-0.22,"e":0.11},{"g":"20 mg/kg","t":11,"m":-0.32,"e":0.11},{"g":"20 mg/kg","t":11.333,"m":-0.2,"e":0.11},{"g":"20 mg/kg","t":11.667,"m":-0.3,"e":0.11},{"g":"20 mg/kg","t":12,"m":-0.25,"e":0.11},{"g":"20 mg/kg","t":12.333,"m":-0.32,"e":0.11},{"g":"20 mg/kg","t":12.667,"m":-0.22,"e":0.11},{"g":"20 mg/kg","t":13,"m":-0.28,"e":0.11},{"g":"20 mg/kg","t":13.333,"m":-0.25,"e":0.11},{"g":"20 mg/kg","t":13.667,"m":-0.3,"e":0.11},{"g":"20 mg/kg","t":14,"m":-0.2,"e":0.11},{"g":"20 mg/kg","t":14.333,"m":-0.35,"e":0.11},{"g":"20 mg/kg","t":14.667,"m":-0.22,"e":0.11},{"g":"20 mg/kg","t":15,"m":-0.3,"e":0.11},
{"g":"20 mg/kg","t":15.333,"m":-0.22,"e":0.11},{"g":"20 mg/kg","t":15.667,"m":-0.25,"e":0.11},{"g":"20 mg/kg","t":16,"m":-0.2,"e":0.11},{"g":"20 mg/kg","t":16.333,"m":-0.25,"e":0.11},{"g":"20 mg/kg","t":16.667,"m":-0.3,"e":0.11},{"g":"20 mg/kg","t":17,"m":-0.05,"e":0.11},{"g":"20 mg/kg","t":17.333,"m":-0.35,"e":0.11},{"g":"20 mg/kg","t":17.667,"m":-0.25,"e":0.11},{"g":"20 mg/kg","t":18,"m":-0.3,"e":0.11},{"g":"20 mg/kg","t":18.333,"m":-0.15,"e":0.11},{"g":"20 mg/kg","t":18.667,"m":-0.25,"e":0.11},{"g":"20 mg/kg","t":19,"m":-0.2,"e":0.11},{"g":"20 mg/kg","t":19.333,"m":-0.22,"e":0.11},{"g":"20 mg/kg","t":19.667,"m":-0.2,"e":0.11},{"g":"20 mg/kg","t":20,"m":-0.2,"e":0.11}
]
},
"vconcat": [
{
"title": {"text": "A", "anchor": "start", "frame": "bounds", "fontSize": 34, "fontWeight": "bold", "offset": -34, "dx": -27},
"vconcat": [{
"width": 537, "height": 362,
"title": {"text": "Response to Conditioning Stimulus", "fontSize": 29, "fontWeight": "bold", "anchor": "middle", "offset": 12},
"data": {"name": "A"},
"layer": [
{"layer": [
{"mark": {"type": "errorband", "opacity": 0.6},
"encoding": {
"x": {"field": "t", "type": "quantitative", "scale": {"domain": [0, 20], "nice": false}, "axis": {"values": [0,0.25,0.5,0.75,1,1.25,1.5,1.75,2,2.25,2.5,2.75,3,3.25,3.5,3.75,4,4.25,4.5,4.75,5,5.25,5.5,5.75,6,6.25,6.5,6.75,7,7.25,7.5,7.75,8,8.25,8.5,8.75,9,9.25,9.5,9.75,10,10.25,10.5,10.75,11,11.25,11.5,11.75,12,12.25,12.5,12.75,13,13.25,13.5,13.75,14,14.25,14.5,14.75,15,15.25,15.5,15.75,16,16.25,16.5,16.75,17,17.25,17.5,17.75,18,18.25,18.5,18.75,19,19.25,19.5,19.75,20], "labelExpr": "datum.value % 2 === 0 ? format(datum.value, 'd') : ''", "tickSize": {"condition": {"test": "datum.value % 2 === 0", "value": 12}, "value": 6}, "tickWidth": 2.2, "domainWidth": 3, "labelFontSize": 18, "labelFontWeight": "bold", "labelPadding": 4, "labelOverlap": false, "labelFlush": false, "title": null}},
"y": {"field": "m", "type": "quantitative", "scale": {"domain": [-0.8, 0.8], "nice": false}, "axis": {"values": [-0.8,-0.7,-0.6,-0.5,-0.4,-0.3,-0.2,-0.1,0,0.1,0.2,0.3,0.4,0.5,0.6,0.7,0.8], "labelExpr": "abs(round(datum.value*10)) % 4 === 0 ? replace(format(datum.value, '.1f'), '\u2212', '-') : ''", "tickSize": {"condition": {"test": "abs(round(datum.value*10)) % 4 === 0", "value": 10}, "value": 6}, "tickWidth": 2.2, "domainWidth": 3, "labelFontSize": 18, "labelFontWeight": "bold", "labelPadding": 3, "labelOverlap": false, "labelFlush": false, "title": "(normalized to baseline)", "titleFontSize": 28, "titleFontWeight": "bold", "titleFontStyle": "italic", "titlePadding": 21}},
"yError": {"field": "e"},
"color": {"field": "g", "type": "nominal", "scale": {"domain": ["10 mg/kg", "20 mg/kg", "Control"], "range": ["#b5b5b5", "#8f8ff2", "#f58c8c"]}, "legend": null}
}},
{"mark": {"type": "line", "strokeWidth": 1.7},
"encoding": {"x": {"field": "t", "type": "quantitative"}, "y": {"field": "m", "type": "quantitative"},
"stroke": {"field": "g", "type": "nominal", "scale": {"domain": ["Control", "10 mg/kg", "20 mg/kg"], "range": ["#ff0000", "#000000", "#0000ff"]}, "legend": {"orient": "none", "legendX": 54, "legendY": 1448, "direction": "horizontal", "columns": 3, "padding": 0, "title": null, "labelFontSize": 23, "labelColor": "black", "symbolType": "M-1,0L1,0M-0.1,0A0.1,0.1 0 1,0 0.1,0A0.1,0.1 0 1,0 -0.1,0", "symbolSize": 961, "symbolStrokeWidth": 2, "labelOffset": 14, "columnPadding": 16}}}},
{"mark": {"type": "point", "filled": true, "size": 45, "opacity": 1},
"encoding": {"x": {"field": "t", "type": "quantitative"}, "y": {"field": "m", "type": "quantitative"},
"fill": {"field": "g", "type": "nominal", "scale": {"domain": ["Control", "20 mg/kg", "10 mg/kg"], "range": ["#ff0000", "#0000ff", "#000000"]}, "legend": null}}},
{"data": {"values": [{}]}, "mark": {"type": "rule", "strokeDash": [5, 4], "strokeWidth": 1.5, "color": "black"},
"encoding": {"x": {"datum": 5}, "y": {"datum": 0.51}, "y2": {"datum": -0.8}}},
{"data": {"values": [{}]}, "mark": {"type": "text", "fontSize": 19, "color": "#333333", "align": "center", "baseline": "middle", "lineHeight": 24},
"encoding": {"x": {"datum": 5}, "y": {"datum": 0.655}, "text": {"value": ["Propofol", "Bolus"]}}}
]},
{"mark": {"type": "point", "opacity": 0},
"encoding": {"y": {"field": "m", "type": "quantitative", "scale": {"domain": [-0.8, 0.8], "nice": false}, "axis": {"orient": "left", "labels": false, "ticks": false, "domain": false, "grid": false, "title": "log₁₀ [MEP Amplitude]", "titleFontSize": 28, "titleFontWeight": "bold", "titlePadding": 102}}}}
],
"resolve": {"scale": {"y": "independent"}, "axis": {"y": "independent"}}
}]
},
{
"title": {"text": "B", "anchor": "start", "frame": "bounds", "fontSize": 34, "fontWeight": "bold", "offset": -34, "dx": -27},
"vconcat": [{
"width": 537, "height": 362,
"title": {"text": "Response to Test\u00a0 Stimulus", "fontSize": 29, "fontWeight": "bold", "anchor": "middle", "offset": 12},
"data": {"name": "B"},
"layer": [
{"layer": [
{"mark": {"type": "errorband", "opacity": 0.6},
"encoding": {
"x": {"field": "t", "type": "quantitative", "scale": {"domain": [0, 20], "nice": false}, "axis": {"values": [0,0.25,0.5,0.75,1,1.25,1.5,1.75,2,2.25,2.5,2.75,3,3.25,3.5,3.75,4,4.25,4.5,4.75,5,5.25,5.5,5.75,6,6.25,6.5,6.75,7,7.25,7.5,7.75,8,8.25,8.5,8.75,9,9.25,9.5,9.75,10,10.25,10.5,10.75,11,11.25,11.5,11.75,12,12.25,12.5,12.75,13,13.25,13.5,13.75,14,14.25,14.5,14.75,15,15.25,15.5,15.75,16,16.25,16.5,16.75,17,17.25,17.5,17.75,18,18.25,18.5,18.75,19,19.25,19.5,19.75,20], "labelExpr": "datum.value % 2 === 0 ? format(datum.value, 'd') : ''", "tickSize": {"condition": {"test": "datum.value % 2 === 0", "value": 12}, "value": 6}, "tickWidth": 2.2, "domainWidth": 3, "labelFontSize": 18, "labelFontWeight": "bold", "labelPadding": 4, "labelOverlap": false, "labelFlush": false, "title": null}},
"y": {"field": "m", "type": "quantitative", "scale": {"domain": [-0.8, 0.8], "nice": false}, "axis": {"values": [-0.8,-0.7,-0.6,-0.5,-0.4,-0.3,-0.2,-0.1,0,0.1,0.2,0.3,0.4,0.5,0.6,0.7,0.8], "labelExpr": "abs(round(datum.value*10)) % 4 === 0 ? replace(format(datum.value, '.1f'), '\u2212', '-') : ''", "tickSize": {"condition": {"test": "abs(round(datum.value*10)) % 4 === 0", "value": 10}, "value": 6}, "tickWidth": 2.2, "domainWidth": 3, "labelFontSize": 18, "labelFontWeight": "bold", "labelPadding": 3, "labelOverlap": false, "labelFlush": false, "title": "(normalized to baseline)", "titleFontSize": 28, "titleFontWeight": "bold", "titleFontStyle": "italic", "titlePadding": 21}},
"yError": {"field": "e"},
"color": {"field": "g", "type": "nominal", "scale": {"domain": ["10 mg/kg", "20 mg/kg", "Control"], "range": ["#b5b5b5", "#8f8ff2", "#f58c8c"]}, "legend": null}
}},
{"mark": {"type": "line", "strokeWidth": 1.7},
"encoding": {"x": {"field": "t", "type": "quantitative"}, "y": {"field": "m", "type": "quantitative"},
"stroke": {"field": "g", "type": "nominal", "scale": {"domain": ["Control", "10 mg/kg", "20 mg/kg"], "range": ["#ff0000", "#000000", "#0000ff"]}, "legend": {"orient": "none", "legendX": 54, "legendY": 1448, "direction": "horizontal", "columns": 3, "padding": 0, "title": null, "labelFontSize": 23, "labelColor": "black", "symbolType": "M-1,0L1,0M-0.1,0A0.1,0.1 0 1,0 0.1,0A0.1,0.1 0 1,0 -0.1,0", "symbolSize": 961, "symbolStrokeWidth": 2, "labelOffset": 14, "columnPadding": 16}}}},
{"mark": {"type": "point", "filled": true, "size": 45, "opacity": 1},
"encoding": {"x": {"field": "t", "type": "quantitative"}, "y": {"field": "m", "type": "quantitative"},
"fill": {"field": "g", "type": "nominal", "scale": {"domain": ["Control", "20 mg/kg", "10 mg/kg"], "range": ["#ff0000", "#0000ff", "#000000"]}, "legend": null}}},
{"data": {"values": [{}]}, "mark": {"type": "rule", "strokeDash": [5, 4], "strokeWidth": 1.5, "color": "black"},
"encoding": {"x": {"datum": 5}, "y": {"datum": 0.51}, "y2": {"datum": -0.8}}},
{"data": {"values": [{}]}, "mark": {"type": "text", "fontSize": 19, "color": "#333333", "align": "center", "baseline": "middle", "lineHeight": 24},
"encoding": {"x": {"datum": 5}, "y": {"datum": 0.655}, "text": {"value": ["Propofol", "Bolus"]}}}
]},
{"mark": {"type": "point", "opacity": 0},
"encoding": {"y": {"field": "m", "type": "quantitative", "scale": {"domain": [-0.8, 0.8], "nice": false}, "axis": {"orient": "left", "labels": false, "ticks": false, "domain": false, "grid": false, "title": "log₁₀ [MEP Amplitude]", "titleFontSize": 28, "titleFontWeight": "bold", "titlePadding": 102}}}}
],
"resolve": {"scale": {"y": "independent"}, "axis": {"y": "independent"}}
}]
},
{
"title": {"text": "C", "anchor": "start", "frame": "bounds", "fontSize": 34, "fontWeight": "bold", "offset": -34, "dx": -27},
"vconcat": [{
"width": 537, "height": 362,
"title": {"text": "ResponseTS / ResponseCS", "fontSize": 29, "fontWeight": "bold", "anchor": "middle", "offset": 12},
"data": {"name": "C"},
"layer": [
{"layer": [
{"mark": {"type": "errorband", "opacity": 0.6},
"encoding": {
"x": {"field": "t", "type": "quantitative", "scale": {"domain": [0, 20], "nice": false}, "axis": {"values": [0,0.25,0.5,0.75,1,1.25,1.5,1.75,2,2.25,2.5,2.75,3,3.25,3.5,3.75,4,4.25,4.5,4.75,5,5.25,5.5,5.75,6,6.25,6.5,6.75,7,7.25,7.5,7.75,8,8.25,8.5,8.75,9,9.25,9.5,9.75,10,10.25,10.5,10.75,11,11.25,11.5,11.75,12,12.25,12.5,12.75,13,13.25,13.5,13.75,14,14.25,14.5,14.75,15,15.25,15.5,15.75,16,16.25,16.5,16.75,17,17.25,17.5,17.75,18,18.25,18.5,18.75,19,19.25,19.5,19.75,20], "labelExpr": "datum.value % 2 === 0 ? format(datum.value, 'd') : ''", "tickSize": {"condition": {"test": "datum.value % 2 === 0", "value": 12}, "value": 6}, "tickWidth": 2.2, "domainWidth": 3, "labelFontSize": 18, "labelFontWeight": "bold", "labelPadding": 4, "labelOverlap": false, "labelFlush": false, "title": "Time (min)", "titleFontSize": 26, "titleFontWeight": "bold", "titlePadding": 6}},
"y": {"field": "m", "type": "quantitative", "scale": {"domain": [-0.8, 0.8], "nice": false}, "axis": {"values": [-0.8,-0.7,-0.6,-0.5,-0.4,-0.3,-0.2,-0.1,0,0.1,0.2,0.3,0.4,0.5,0.6,0.7,0.8], "labelExpr": "abs(round(datum.value*10)) % 4 === 0 ? replace(format(datum.value, '.1f'), '\u2212', '-') : ''", "tickSize": {"condition": {"test": "abs(round(datum.value*10)) % 4 === 0", "value": 10}, "value": 6}, "tickWidth": 2.2, "domainWidth": 3, "labelFontSize": 18, "labelFontWeight": "bold", "labelPadding": 3, "labelOverlap": false, "labelFlush": false, "title": "(normalized to baseline)", "titleFontSize": 28, "titleFontWeight": "bold", "titleFontStyle": "italic", "titlePadding": 21}},
"yError": {"field": "e"},
"color": {"field": "g", "type": "nominal", "scale": {"domain": ["10 mg/kg", "20 mg/kg", "Control"], "range": ["#b5b5b5", "#8f8ff2", "#f58c8c"]}, "legend": null}
}},
{"mark": {"type": "line", "strokeWidth": 1.7},
"encoding": {"x": {"field": "t", "type": "quantitative"}, "y": {"field": "m", "type": "quantitative"},
"stroke": {"field": "g", "type": "nominal", "scale": {"domain": ["Control", "10 mg/kg", "20 mg/kg"], "range": ["#ff0000", "#000000", "#0000ff"]}, "legend": {"orient": "none", "legendX": 54, "legendY": 1448, "direction": "horizontal", "columns": 3, "padding": 0, "title": null, "labelFontSize": 23, "labelColor": "black", "symbolType": "M-1,0L1,0M-0.1,0A0.1,0.1 0 1,0 0.1,0A0.1,0.1 0 1,0 -0.1,0", "symbolSize": 961, "symbolStrokeWidth": 2, "labelOffset": 14, "columnPadding": 16}}}},
{"mark": {"type": "point", "filled": true, "size": 45, "opacity": 1},
"encoding": {"x": {"field": "t", "type": "quantitative"}, "y": {"field": "m", "type": "quantitative"},
"fill": {"field": "g", "type": "nominal", "scale": {"domain": ["Control", "20 mg/kg", "10 mg/kg"], "range": ["#ff0000", "#0000ff", "#000000"]}, "legend": null}}},
{"data": {"values": [{}]}, "mark": {"type": "rule", "strokeDash": [5, 4], "strokeWidth": 1.5, "color": "black"},
"encoding": {"x": {"datum": 5}, "y": {"datum": 0.51}, "y2": {"datum": -0.8}}},
{"data": {"values": [{}]}, "mark": {"type": "text", "fontSize": 19, "color": "#333333", "align": "center", "baseline": "middle", "lineHeight": 24},
"encoding": {"x": {"datum": 5}, "y": {"datum": 0.655}, "text": {"value": ["Propofol", "Bolus"]}}}
]},
{"mark": {"type": "point", "opacity": 0},
"encoding": {"y": {"field": "m", "type": "quantitative", "scale": {"domain": [-0.8, 0.8], "nice": false}, "axis": {"orient": "left", "labels": false, "ticks": false, "domain": false, "grid": false, "title": "log₁₀ [MEPTS / MEPCS]", "titleFontSize": 28, "titleFontWeight": "bold", "titlePadding": 102}}}}
],
"resolve": {"scale": {"y": "independent"}, "axis": {"y": "independent"}}
}]
}
]
}
